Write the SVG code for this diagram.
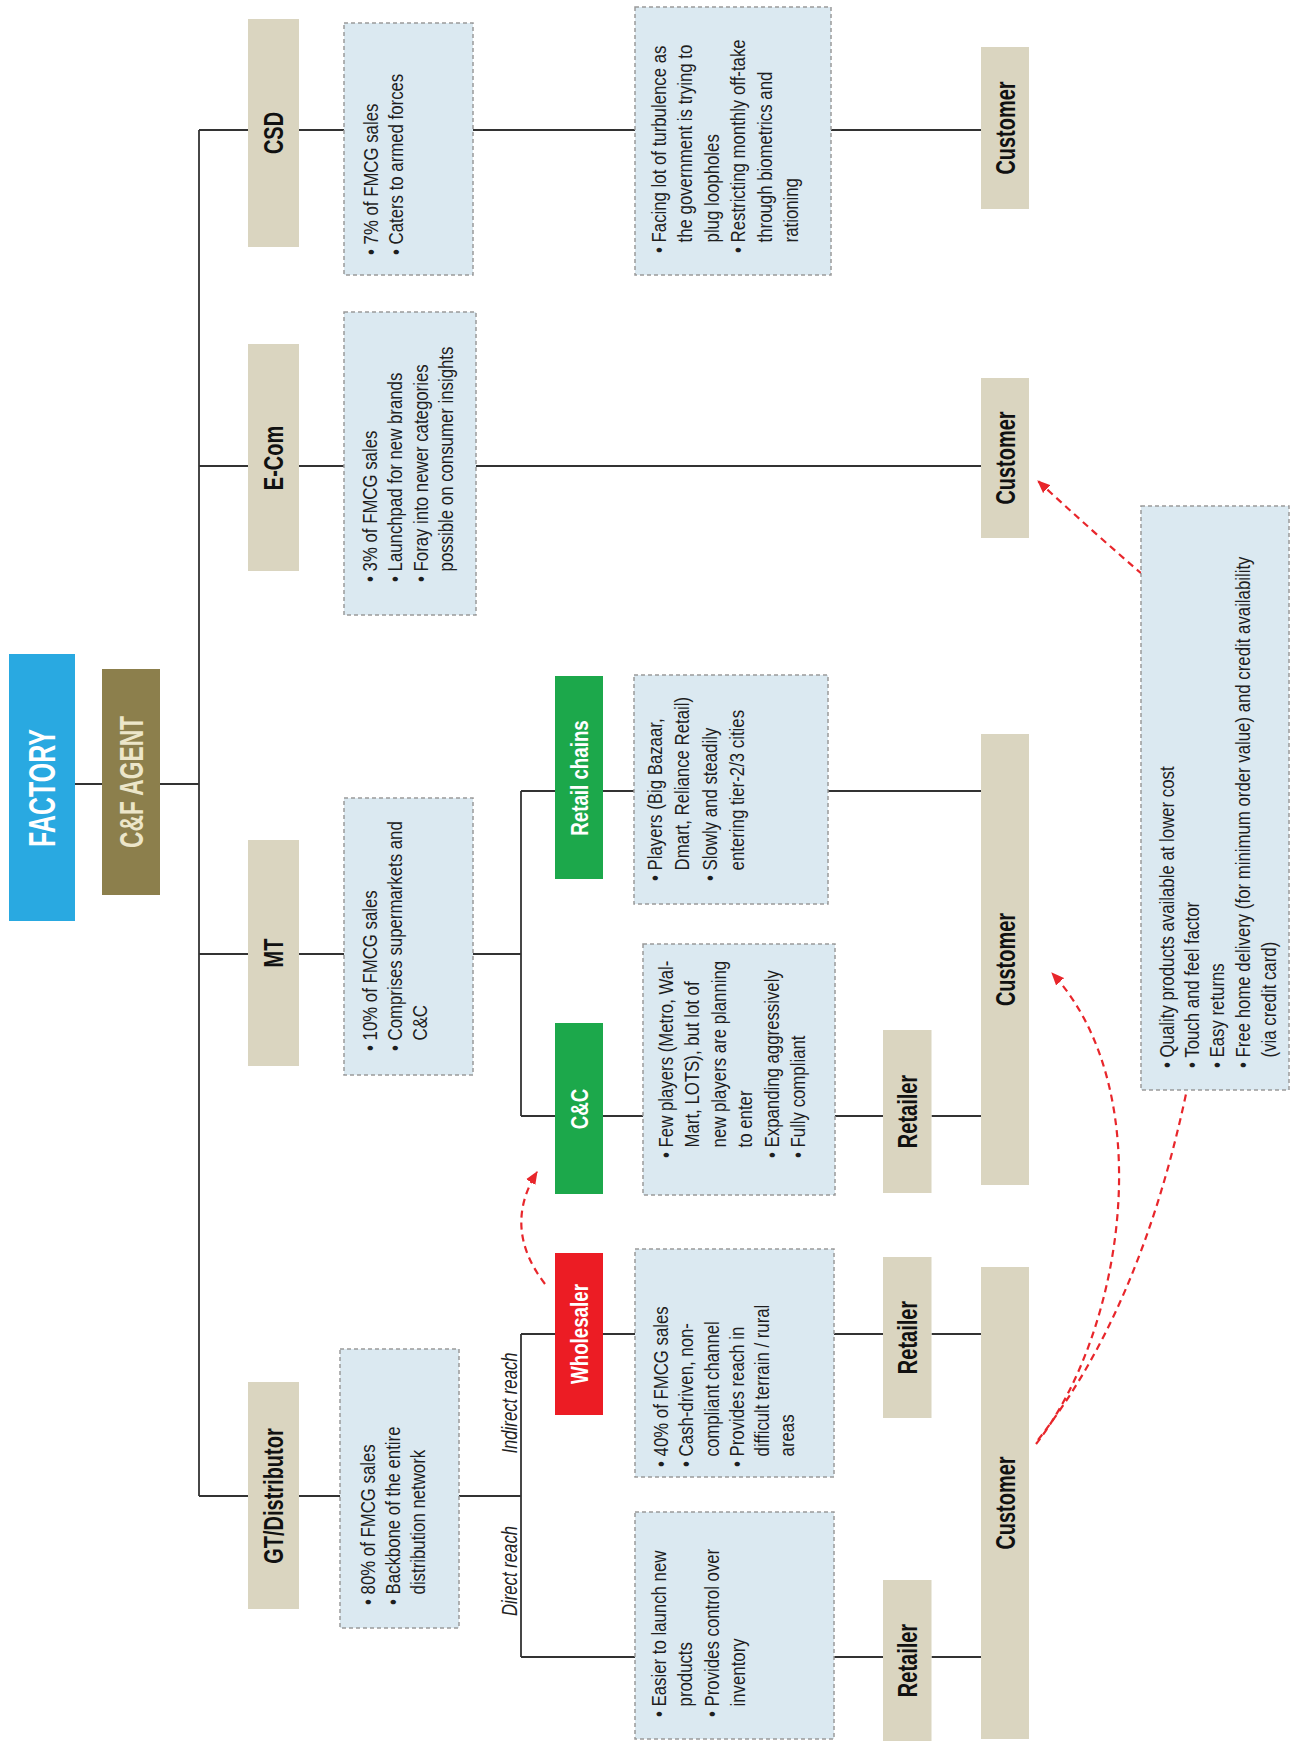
<svg xmlns="http://www.w3.org/2000/svg" width="1293" height="1750" viewBox="0 0 1293 1750">
<defs>
<style>
.bg{fill:#ffffff}
.beige{fill:#dad5c0}
.ibox{fill:#dbe9f1;stroke:#9a9a9a;stroke-width:1.5;stroke-dasharray:4 3}
.conn{stroke:#333333;stroke-width:1.8;fill:none}
.red{stroke:#e8262b;stroke-width:2.2;fill:none;stroke-dasharray:7 5}
.lbl{font-family:"Liberation Sans",Arial,sans-serif;font-weight:bold;font-size:27px;fill:#111111;text-anchor:middle}
.wlbl{font-family:"Liberation Sans",Arial,sans-serif;font-weight:bold;font-size:24px;fill:#ffffff;text-anchor:middle}
.info{font-family:"Liberation Sans",Arial,sans-serif;font-size:21px;fill:#1e1e1e}
.ital{font-family:"Liberation Sans",Arial,sans-serif;font-style:italic;font-size:22px;fill:#222222;text-anchor:middle}
</style>
<marker id="ah" viewBox="0 0 12 10" refX="11" refY="5" markerWidth="13" markerHeight="11" markerUnits="userSpaceOnUse" orient="auto">
<path d="M0,0 L12,5 L0,10 z" fill="#e8262b"/>
</marker>
</defs>
<rect class="bg" x="0" y="0" width="1293" height="1750"/>

<g id="connectors">
<path class="conn" d="M199 130 V1496"/>
<path class="conn" d="M199 130 H248 M299 130 H344 M473 130 H635 M831 130 H981"/>
<path class="conn" d="M199 466 H248 M299 466 H344 M476 466 H981"/>
<path class="conn" d="M75 784 H102 M160 784 H199"/>
<path class="conn" d="M199 954 H248 M299 954 H344 M473 954 H521 M521 791 V1116 M521 791 H555 M603 791 H634 M828 791 H981"/>
<path class="conn" d="M521 1116 H555 M603 1116 H643 M835 1116 H883 M931.5 1116 H981"/>
<path class="conn" d="M199 1496 H248 M299 1496 H340 M459 1496 H521 M521 1334 V1657 M521 1334 H555 M603 1334 H635 M834 1334 H883 M931.5 1334 H981 M521 1657 H635 M834 1657 H883 M931.5 1657 H981"/>
<path class="red" d="M545 1284 Q502 1228 537 1172" marker-end="url(#ah)"/>
<path class="red" d="M1036 1444 C1125 1330 1160 1090 1052 973" marker-end="url(#ah)"/>
<path class="red" d="M1038 1440 Q1140 1310 1186 1094"/>
<path class="red" d="M1142 574 Q1092 531 1038 481" marker-end="url(#ah)"/>
</g>

<g id="factory">
<rect x="9" y="654" width="66" height="267" fill="#29a9e1"/>
<text class="wlbl" style="font-size:37px" transform="translate(55 788) rotate(-90) scale(0.674 1)">FACTORY</text>
</g>
<g id="cf-agent">
<rect x="102" y="669" width="58" height="226" fill="#8c7f4c"/>
<text class="wlbl" style="font-size:34px;fill:#ece6c9" transform="translate(143 782) rotate(-90) scale(0.67 1)">C&amp;F AGENT</text>
</g>

<g id="csd">
<rect class="beige" x="248" y="19" width="51" height="228"/>
<text class="lbl" transform="translate(283 133) rotate(-90) scale(0.74 1)">CSD</text>
</g>
<g id="ecom">
<rect class="beige" x="248" y="344" width="51" height="227"/>
<text class="lbl" transform="translate(283 458) rotate(-90) scale(0.74 1)">E-Com</text>
</g>
<g id="mt">
<rect class="beige" x="248" y="840" width="51" height="226"/>
<text class="lbl" transform="translate(283 953) rotate(-90) scale(0.74 1)">MT</text>
</g>
<g id="gt">
<rect class="beige" x="248" y="1382" width="51" height="227"/>
<text class="lbl" transform="translate(283 1496) rotate(-90) scale(0.74 1)">GT/Distributor</text>
</g>

<g id="csd-info">
<rect class="ibox" x="344" y="23" width="129" height="252"/>
<text class="info" transform="translate(344 255) rotate(-90) scale(0.8 1)">
<tspan x="0" y="34">• 7% of FMCG sales</tspan>
<tspan x="0" y="59">• Caters to armed forces</tspan>
</text>
</g>
<g id="ecom-info">
<rect class="ibox" x="344" y="312" width="132" height="303"/>
<text class="info" transform="translate(344 582) rotate(-90) scale(0.8 1)">
<tspan x="0" y="33">• 3% of FMCG sales</tspan>
<tspan x="0" y="58.5">• Launchpad for new brands</tspan>
<tspan x="0" y="84">• Foray into newer categories</tspan>
<tspan x="13.2" y="109.5">possible on consumer insights</tspan>
</text>
</g>
<g id="mt-info">
<rect class="ibox" x="344" y="798" width="129" height="277"/>
<text class="info" transform="translate(344 1051) rotate(-90) scale(0.8 1)">
<tspan x="0" y="33">• 10% of FMCG sales</tspan>
<tspan x="0" y="58">• Comprises supermarkets and</tspan>
<tspan x="13.2" y="83">C&amp;C</tspan>
</text>
</g>
<g id="gt-info">
<rect class="ibox" x="340" y="1349" width="119" height="279"/>
<text class="info" transform="translate(340 1605) rotate(-90) scale(0.8 1)">
<tspan x="0" y="35">• 80% of FMCG sales</tspan>
<tspan x="0" y="60">• Backbone of the entire</tspan>
<tspan x="13.2" y="85">distribution network</tspan>
</text>
</g>

<g id="retail-chains">
<rect x="555" y="676" width="48" height="203" fill="#1ca84b"/>
<text class="wlbl" transform="translate(587.6 778) rotate(-90) scale(0.78 1)">Retail chains</text>
</g>
<g id="cnc">
<rect x="555" y="1023" width="48" height="171" fill="#1ca84b"/>
<text class="wlbl" transform="translate(587.6 1109) rotate(-90) scale(0.78 1)">C&amp;C</text>
</g>
<g id="wholesaler">
<rect x="555" y="1253" width="48" height="162" fill="#ec1c24"/>
<text class="wlbl" transform="translate(587.6 1334) rotate(-90) scale(0.78 1)">Wholesaler</text>
</g>

<g id="reach-labels">
<text class="ital" transform="translate(517 1403) rotate(-90) scale(0.76 1)">Indirect reach</text>
<text class="ital" transform="translate(517 1571) rotate(-90) scale(0.76 1)">Direct reach</text>
</g>

<g id="csd-detail">
<rect class="ibox" x="635" y="7" width="196" height="268"/>
<text class="info" transform="translate(635 253) rotate(-90) scale(0.8 1)">
<tspan x="0" y="31">• Facing lot of turbulence as</tspan>
<tspan x="13.2" y="57.5">the government is trying to</tspan>
<tspan x="13.2" y="84">plug loopholes</tspan>
<tspan x="0" y="110.5">• Restricting monthly off-take</tspan>
<tspan x="13.2" y="137">through biometrics and</tspan>
<tspan x="13.2" y="163.5">rationing</tspan>
</text>
</g>
<g id="retail-chains-info">
<rect class="ibox" x="634" y="675" width="194" height="229"/>
<text class="info" transform="translate(634 881) rotate(-90) scale(0.8 1)">
<tspan x="0" y="28">• Players (Big Bazaar,</tspan>
<tspan x="13.2" y="55.5">Dmart, Reliance Retail)</tspan>
<tspan x="0" y="83">• Slowly and steadily</tspan>
<tspan x="13.2" y="110">entering tier-2/3 cities</tspan>
</text>
</g>
<g id="cnc-info">
<rect class="ibox" x="643" y="944" width="192" height="251"/>
<text class="info" transform="translate(643 1158) rotate(-90) scale(0.8 1)">
<tspan x="0" y="30">• Few players (Metro, Wal-</tspan>
<tspan x="13.2" y="56.5">Mart, LOTS), but lot of</tspan>
<tspan x="13.2" y="83">new players are planning</tspan>
<tspan x="13.2" y="109.5">to enter</tspan>
<tspan x="0" y="136">• Expanding aggressively</tspan>
<tspan x="0" y="162.5">• Fully compliant</tspan>
</text>
</g>
<g id="wholesaler-info">
<rect class="ibox" x="635" y="1249" width="199" height="228"/>
<text class="info" transform="translate(635 1467) rotate(-90) scale(0.8 1)">
<tspan x="0" y="33">• 40% of FMCG sales</tspan>
<tspan x="0" y="58.3">• Cash-driven, non-</tspan>
<tspan x="13.2" y="83.6">compliant channel</tspan>
<tspan x="0" y="108.9">• Provides reach in</tspan>
<tspan x="13.2" y="134.2">difficult terrain / rural</tspan>
<tspan x="13.2" y="159.5">areas</tspan>
</text>
</g>
<g id="direct-info">
<rect class="ibox" x="635" y="1512" width="199" height="227"/>
<text class="info" transform="translate(635 1717) rotate(-90) scale(0.8 1)">
<tspan x="0" y="31">• Easier to launch new</tspan>
<tspan x="13.2" y="57.5">products</tspan>
<tspan x="0" y="84">• Provides control over</tspan>
<tspan x="13.2" y="110.5">inventory</tspan>
</text>
</g>

<g id="retailer-cnc">
<rect class="beige" x="883" y="1030" width="48.5" height="163"/>
<text class="lbl" transform="translate(917 1111.5) rotate(-90) scale(0.74 1)">Retailer</text>
</g>
<g id="retailer-wholesaler">
<rect class="beige" x="883" y="1257" width="48.5" height="161"/>
<text class="lbl" transform="translate(917 1337.5) rotate(-90) scale(0.74 1)">Retailer</text>
</g>
<g id="retailer-direct">
<rect class="beige" x="883" y="1580" width="48.5" height="161"/>
<text class="lbl" transform="translate(917 1660.5) rotate(-90) scale(0.74 1)">Retailer</text>
</g>

<g id="customer-csd">
<rect class="beige" x="981" y="47" width="48" height="162"/>
<text class="lbl" transform="translate(1015 128) rotate(-90) scale(0.74 1)">Customer</text>
</g>
<g id="customer-ecom">
<rect class="beige" x="981" y="378" width="48" height="160"/>
<text class="lbl" transform="translate(1015 458) rotate(-90) scale(0.74 1)">Customer</text>
</g>
<g id="customer-mt">
<rect class="beige" x="981" y="734" width="48" height="451"/>
<text class="lbl" transform="translate(1015 959.5) rotate(-90) scale(0.74 1)">Customer</text>
</g>
<g id="customer-gt">
<rect class="beige" x="981" y="1267" width="48" height="472"/>
<text class="lbl" transform="translate(1015 1503) rotate(-90) scale(0.74 1)">Customer</text>
</g>

<g id="ecom-benefits">
<rect class="ibox" x="1141" y="506" width="148" height="584"/>
<text class="info" transform="translate(1141 1068) rotate(-90) scale(0.8 1)">
<tspan x="0" y="33">• Quality products available at lower cost</tspan>
<tspan x="0" y="58">• Touch and feel factor</tspan>
<tspan x="0" y="83.5">• Easy returns</tspan>
<tspan x="0" y="109">• Free home delivery (for minimum order value) and credit availability</tspan>
<tspan x="13.2" y="135">(via credit card)</tspan>
</text>
</g>
</svg>
